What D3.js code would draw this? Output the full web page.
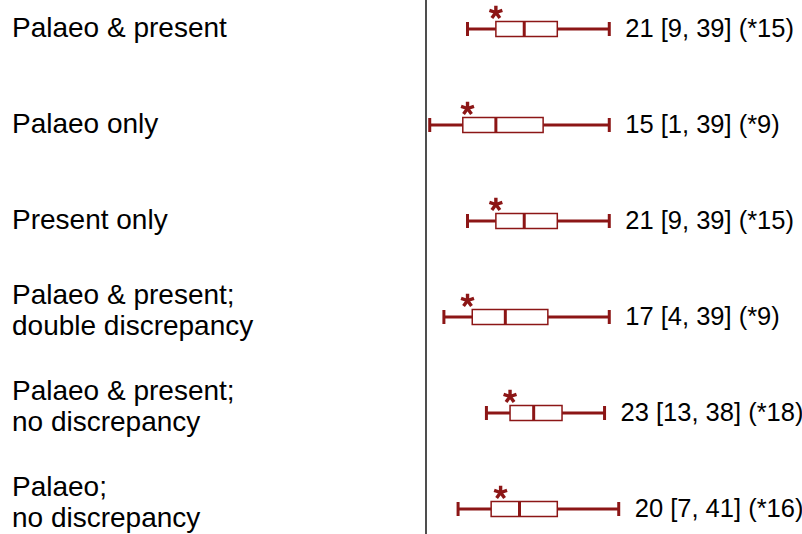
<!DOCTYPE html>
<html>
<head>
<meta charset="utf-8">
<script src="https://cdn.jsdelivr.net/npm/d3@7"></script>
<style>
  html, body { margin: 0; padding: 0; background: #fff; }
  svg { display: block; font-family: "Liberation Sans", Arial, sans-serif; }
</style>
</head>
<body>
<svg id="chart" width="802" height="534"></svg>
<script>
// Group labels (one entry per line of text)
const categories = [
  ["Palaeo & present"],
  ["Palaeo only"],
  ["Present only"],
  ["Palaeo & present;", "double discrepancy"],
  ["Palaeo & present;", "no discrepancy"],
  ["Palaeo;", "no discrepancy"]
];
// Summary statistics per group
const medians = [21, 15, 21, 17, 23, 20];
const mins    = [9, 1, 9, 4, 13, 7];
const maxs    = [39, 39, 39, 39, 38, 41];
const q1s     = [15, 8, 15, 10, 18, 14];
const q3s     = [28, 25, 28, 26, 29, 28];
const modes   = [15, 9, 15, 9, 18, 16];

const color = "#8c1616";
const svg = d3.select("#chart");

const x = d3.scaleLinear().domain([0, 40]).range([425, 614]);
const y = d3.scalePoint().domain(d3.range(categories.length)).range([29, 509]);

// Five-armed asterisk used as the mode marker
function asteriskPath(r) {
  const p = d3.path();
  for (let k = 0; k < 5; k++) {
    const a = -Math.PI / 2 + k * 2 * Math.PI / 5;
    p.moveTo(0, 0);
    p.lineTo(r * Math.cos(a), r * Math.sin(a));
  }
  return p.toString();
}

// Vertical reference line at zero
svg.append("line")
  .attr("x1", x(0) + 1).attr("x2", x(0) + 1)
  .attr("y1", 0).attr("y2", 534)
  .attr("stroke", "#222").attr("stroke-width", 1.6);

const rows = svg.selectAll("g.row")
  .data(categories.map((c, i) => ({
    label: c, i,
    med: medians[i], lo: mins[i], hi: maxs[i],
    q1: q1s[i], q3: q3s[i], mode: modes[i]
  })))
  .join("g").attr("class", "row")
  .attr("transform", d => `translate(0,${y(d.i)})`);

// Category labels
rows.append("text")
  .attr("x", 12)
  .attr("font-size", 28)
  .attr("fill", "#000")
  .each(function(d) {
    const t = d3.select(this);
    const offs = d.label.length === 1 ? [8] : [-13, 18];
    d.label.forEach((line, k) => {
      t.append("tspan").attr("x", 12).attr("y", offs[k]).text(line);
    });
  });

// Whiskers
rows.append("line")
  .attr("x1", d => x(d.lo)).attr("x2", d => x(d.q1))
  .attr("stroke", color).attr("stroke-width", 3);
rows.append("line")
  .attr("x1", d => x(d.q3)).attr("x2", d => x(d.hi))
  .attr("stroke", color).attr("stroke-width", 3);
// Whisker caps
rows.selectAll("line.cap")
  .data(d => [d.lo, d.hi])
  .join("line").attr("class", "cap")
  .attr("x1", v => x(v)).attr("x2", v => x(v))
  .attr("y1", -7).attr("y2", 7)
  .attr("stroke", color).attr("stroke-width", 3);

// Interquartile box
rows.append("rect")
  .attr("x", d => x(d.q1)).attr("width", d => x(d.q3) - x(d.q1))
  .attr("y", -7.5).attr("height", 15)
  .attr("fill", "#fff").attr("stroke", color).attr("stroke-width", 1.5);

// Median
rows.append("line")
  .attr("x1", d => x(d.med)).attr("x2", d => x(d.med))
  .attr("y1", -7.5).attr("y2", 7.5)
  .attr("stroke", color).attr("stroke-width", 3);

// Mode marker
rows.append("path")
  .attr("transform", d => `translate(${x(d.mode)},-16.5)`)
  .attr("d", asteriskPath(6.8))
  .attr("fill", "none")
  .attr("stroke", color)
  .attr("stroke-width", 3.4);

// Value labels
rows.append("text")
  .attr("x", d => x(d.hi) + 16)
  .attr("y", 8)
  .attr("font-size", 25.5)
  .attr("fill", "#000")
  .text(d => `${d.med} [${d.lo}, ${d.hi}] (*${d.mode})`);
</script>
</body>
</html>
